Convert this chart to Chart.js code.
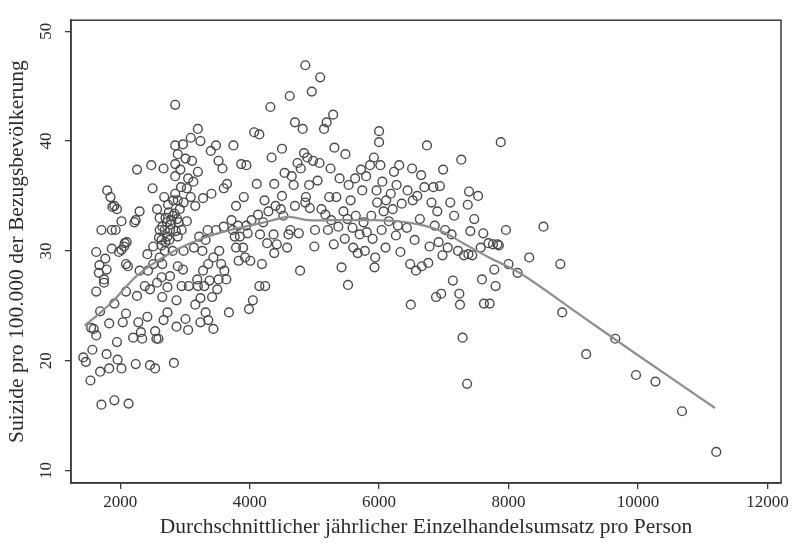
<!DOCTYPE html>
<html>
<head>
<meta charset="utf-8">
<script src="https://cdn.jsdelivr.net/npm/chart.js@4"></script>
<style>
  html, body { margin: 0; padding: 0; background: #fff; }
</style>
</head>
<body>
<canvas id="chart" width="796" height="548"></canvas>
<script>
// Einzelhandelsumsatz pro Person (x) und Suizide pro 100.000 (y), je Kreis
const kreise = [
  [1430,20.3],[1470,19.9],[1540,18.2],[1550,23.0],[1590,22.9],[1570,21.0],[1630,22.3],[1630,26.3],[1670,28.0],[1630,29.9],
  [1680,28.7],[1690,24.5],[1710,16.0],[1690,19.0],[1710,31.9],[1750,27.4],[1750,27.1],[1770,29.3],[1790,28.3],[1790,20.6],
  [1800,35.5],[1830,23.4],[1830,19.3],[1850,34.9],[1870,31.9],[1870,30.2],[1880,34.0],[1910,34.1],[1910,25.2],[1910,16.4],
  [1930,31.9],[1950,33.8],[1950,21.7],[1960,20.1],[1980,29.9],[2020,30.1],[2020,32.7],[2020,19.3],[2040,23.5],[2060,30.4],
  [2070,30.7],[2090,28.8],[2100,30.8],[2090,24.3],[2090,26.3],[2120,28.6],[2130,16.1],
  [2220,32.6],[2240,32.8],[2260,37.4],[2260,25.9],[2280,23.5],[2300,33.6],[2300,28.2],[2320,22.6],[2340,22.0],[2200,22.1],
  [2240,19.7],[2380,26.8],[2420,29.7],[2420,24.0],[2430,28.2],[2460,19.6],[2460,26.5],[2480,37.8],[2500,35.7],[2510,30.4],
  [2510,28.8],[2540,19.3],[2540,22.7],[2560,22.0],[2570,27.1],[2570,33.8],[2590,22.0],[2610,31.9],[2610,33.0],[2610,29.4],
  [2640,31.0],[2640,27.6],[2650,25.8],[2650,28.8],[2670,23.7],[2670,37.5],[2680,34.9],[2690,31.9],[2690,30.0],[2720,32.6],
  [2730,31.3],[2730,24.4],[2730,26.7],[2750,33.5],[2770,31.9],[2770,27.7],[2790,32.8],[2810,33.2],[2810,30.0],[2830,19.8],
  [2850,43.3],[2850,39.6],[2850,37.9],[2850,36.8],[2850,35.2],[2870,25.5],[2870,23.1],[2890,38.8],[2890,34.6],[2890,31.3],
  [2890,28.6],[2600,31.2],[2650,32.2],[2700,33.0],[2760,31.0],[2780,32.4],[2840,33.4],[2860,31.8],[2880,32.9],[2700,30.8],
  [2740,34.2],[2820,34.6],[2640,30.5],
  [2900,32.6],[2920,33.8],[2930,37.4],[2940,35.8],[2950,31.9],[2950,26.8],[2970,39.7],[2970,28.3],[2980,34.4],[2980,30.0],
  [3010,38.4],[3010,23.8],[3030,35.7],[3030,32.7],[3050,36.6],[3050,22.8],[3060,26.8],[3090,40.3],[3090,34.9],[3110,38.2],
  [3130,36.3],[3140,30.3],[3160,34.1],[3160,25.1],[3190,27.4],[3200,41.1],[3200,37.2],[3200,26.8],[3220,31.3],[3240,40.0],
  [3240,25.7],[3240,23.5],[3270,30.0],[3280,34.8],[3280,28.2],[3300,26.8],[3320,31.0],[3320,24.4],[3350,31.9],[3360,28.8],
  [3360,23.7],[3380,27.3],[3400,39.1],[3410,35.2],[3420,25.8],[3440,29.4],[3440,22.9],[3480,31.9],[3480,39.6],[3500,26.5],
  [3520,38.2],[3520,27.4],[3530,30.0],[3560,28.8],[3580,37.5],[3600,32.2],[3600,35.7],[3610,28.2],[3640,27.4],[3650,36.1],
  [3680,24.4],
  [3720,32.8],[3740,31.9],[3750,39.6],[3770,31.3],[3790,30.3],[3790,34.1],[3820,32.3],[3830,29.1],[3850,31.3],[3870,37.9],
  [3900,30.3],[3910,34.9],[3930,29.4],[3950,37.8],[3950,32.3],[3970,31.6],[3990,24.7],[4010,29.1],[4030,32.8],[4050,25.5],
  [4070,40.8],[4110,36.1],[4130,33.3],[4150,40.6],[4150,26.8],[4160,31.5],[4190,28.8],[4210,32.6],[4230,34.6],[4240,26.8],
  [4270,30.7],[4290,33.6],[4320,43.1],[4340,38.5],[4370,31.5],[4380,36.1],[4380,29.8],[4400,34.1],[4420,30.6],
  [4480,33.8],[4500,39.3],[4500,35.0],[4520,33.2],[4540,37.1],[4580,30.3],[4600,31.5],[4620,44.1],[4630,31.9],[4650,36.8],
  [4680,36.0],[4700,41.7],[4700,34.1],[4740,38.0],[4760,31.6],[4780,28.2],[4790,37.5],[4820,41.1],[4840,38.9],[4860,46.9],
  [4860,34.4],[4870,34.9],[4890,38.5],[4920,36.0],[4930,33.9],[4960,44.5],[4980,38.2],[5000,30.4],[5010,31.9],[5050,36.4],
  [5080,38.0],[5090,45.8],[5110,33.8],[5150,41.1],[5170,33.3],[5190,41.7],[5210,31.9],[5230,34.9],
  [5250,37.5],[5260,32.8],[5290,42.4],[5300,30.6],[5310,39.4],[5340,34.9],[5370,32.2],[5390,36.6],[5420,28.5],[5450,33.6],
  [5470,31.1],[5480,38.8],[5510,32.9],[5520,26.9],[5530,36.0],[5560,34.6],[5590,32.1],[5600,30.3],[5630,36.6],[5640,33.2],
  [5670,29.8],[5700,31.5],[5720,37.4],[5740,35.5],[5760,32.6],[5780,30.0],[5800,36.8],[5810,31.7],[5860,37.8],[5880,33.2],
  [5900,31.1],[5920,38.5],[5930,28.5],[5940,29.4],[5960,35.5],[5970,34.4],[6000,39.9],[6000,40.9],[6020,37.8],[6040,31.9],
  [6050,36.3],[6070,33.6],[6100,30.3],[6110,34.6],[6150,32.7],[6180,35.2],[6210,33.8],[6230,37.2],[6260,31.4],[6270,36.0],
  [6290,32.3],[6310,37.8],[6330,29.9],[6350,34.3],[6430,32.1],[6440,35.5],[6480,28.8],[6490,25.1],[6510,37.5],[6520,34.6],
  [6550,31.0],[6570,28.2],[6590,35.0],[6630,32.9],[6650,36.9],[6660,28.6],[6700,35.8],[6740,39.6],[6760,28.9],[6780,30.4],
  [6810,34.4],
  [6840,35.8],[6860,32.3],[6880,25.8],[6900,33.6],[6920,30.8],[6940,35.9],[6960,26.1],[6980,29.6],[6990,37.4],[7020,31.9],
  [7060,30.3],[7100,34.4],[7120,31.5],[7140,27.3],[7160,33.2],[7220,30.0],[7240,26.1],[7250,25.1],[7270,38.3],[7290,22.1],
  [7310,29.6],[7360,17.9],[7370,34.2],[7390,35.4],[7410,31.8],[7440,29.6],[7470,32.9],[7530,35.0],[7570,30.3],[7380,29.7],
  [7590,27.4],[7610,31.6],[7690,30.7],[7620,25.2],[7710,25.2],[7780,28.3],[7800,26.8],[7830,30.6],[7880,39.9],[7960,31.9],
  [8000,28.8],[8140,28.0],[8320,29.4],[8540,32.2],[8800,28.8],[8830,24.4],[9200,20.6],[9650,22.0],[9970,18.7],[10270,18.1],
  [10680,15.4],[11210,11.7],[7760,30.6],[7850,30.5]
];

// geglaettete Kurve (lowess)
const lowessX = [1450, 1700, 1900, 2100, 2250, 2500, 2900, 3300, 3700, 4000, 4300, 4600, 4900, 5300, 5800, 6300, 6700, 7000, 7300, 7700, 8200, 9000, 10000, 11190];
const lowessY = [23.2, 24.4, 25.5, 26.8, 27.7, 28.8, 30.2, 31.2, 31.9, 32.3, 32.7, 33.1, 32.8, 32.8, 32.8, 32.7, 32.3, 31.7, 30.7, 29.4, 27.9, 24.6, 20.5, 15.7];

const xTicks = [2000, 4000, 6000, 8000, 10000, 12000];
const yTicks = [10, 20, 30, 40, 50];

const serif = "'Liberation Serif', 'DejaVu Serif', serif";
const ink = "#2b2b2b";

// Rahmen um den Plotbereich
const frame = {
  id: "frame",
  afterDatasetsDraw(chart) {
    const { ctx, chartArea: a } = chart;
    ctx.save();
    ctx.strokeStyle = "#3a3a3a";
    ctx.lineWidth = 1.5;
    ctx.strokeRect(a.left, a.top, a.right - a.left, a.bottom - a.top);
    ctx.restore();
  },
};

new Chart(document.getElementById("chart"), {
  data: {
    datasets: [
      {
        type: "line",
        data: lowessX.map((x, i) => ({ x, y: lowessY[i] })),
        borderColor: "#8f8f8f",
        borderWidth: 2.2,
        pointRadius: 0,
        tension: 0.35,
        order: 0,
      },
      {
        type: "scatter",
        data: kreise.map(([x, y]) => ({ x, y })),
        pointStyle: "circle",
        pointRadius: 4.4,
        borderWidth: 1.4,
        borderColor: "#4a4a4a",
        backgroundColor: "rgba(0,0,0,0)",
        order: 1,
      },
    ],
  },
  options: {
    responsive: false,
    animation: false,
    layout: { padding: { top: 10, right: 15, left: 0, bottom: 0 } },
    plugins: { legend: { display: false }, tooltip: { enabled: false } },
    scales: {
      x: {
        type: "linear",
        min: 1240,
        max: 12210,
        afterBuildTicks: (s) => { s.ticks = xTicks.map((v) => ({ value: v })); },
        afterFit: (s) => { s.height = 65; },
        grid: { drawOnChartArea: false, drawTicks: true, tickLength: 6, color: "#3a3a3a", lineWidth: 1.3 },
        border: { display: true, color: "#3a3a3a", width: 1.5 },
        ticks: { color: ink, font: { family: serif, size: 17 }, padding: 3, maxRotation: 0, callback: (v) => String(v) },
        title: {
          display: true,
          text: "Durchschnittlicher jährlicher Einzelhandelsumsatz pro Person",
          color: ink,
          font: { family: serif, size: 21.5 },
          padding: { top: 0, bottom: 8 },
        },
      },
      y: {
        type: "linear",
        min: 8.87,
        max: 51.0,
        afterBuildTicks: (s) => { s.ticks = yTicks.map((v) => ({ value: v })); },
        afterFit: (s) => { s.width = 71; },
        grid: { drawOnChartArea: false, drawTicks: true, tickLength: 6, color: "#3a3a3a", lineWidth: 1.3 },
        border: { display: true, color: "#3a3a3a", width: 1.5 },
        ticks: {
          color: ink,
          font: { family: serif, size: 17 },
          padding: 10,
          minRotation: 90,
          maxRotation: 90,
          crossAlign: "center",
          callback: (v) => String(v),
        },
        title: {
          display: true,
          text: "Suizide pro 100.000 der Bezugsbevölkerung",
          color: ink,
          font: { family: serif, size: 21.5 },
          padding: { top: 4, bottom: 0 },
        },
      },
    },
  },
  plugins: [frame],
});
</script>
</body>
</html>
